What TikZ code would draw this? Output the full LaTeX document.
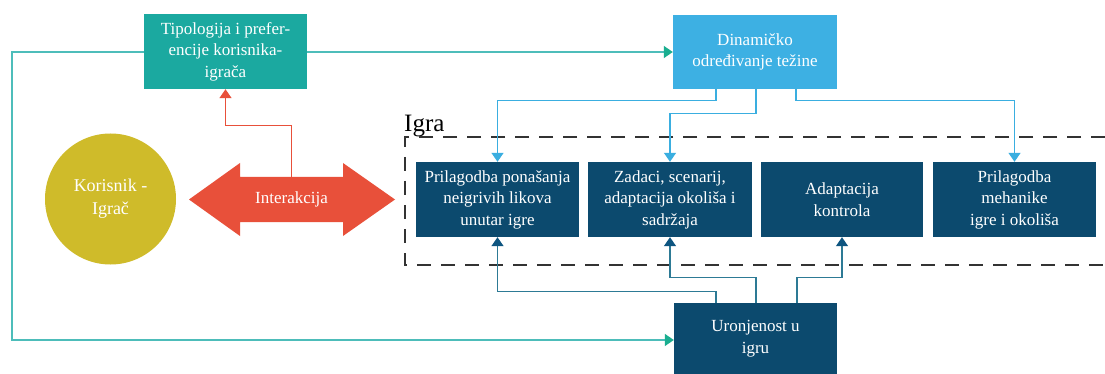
\documentclass[tikz,border=0pt]{standalone}
\usepackage{fontspec}
\setmainfont{Liberation Serif}
\usetikzlibrary{arrows.meta}
\definecolor{tealbox}{HTML}{1BA9A0}
\definecolor{bluebox}{HTML}{3DB0E3}
\definecolor{navy}{HTML}{0C4A6E}
\definecolor{olive}{HTML}{CFBB2A}
\definecolor{redc}{HTML}{E8503A}
\definecolor{tealline}{HTML}{4DBDBA}
\definecolor{tealtip}{HTML}{1AAE90}
\definecolor{blueline}{HTML}{3AAEE0}
\definecolor{navyline}{HTML}{2D7A95}
\definecolor{navytip}{HTML}{0E5580}
\begin{document}
\begin{tikzpicture}[x=1pt,y=-1pt,
  box/.style={rectangle, minimum width=163pt, minimum height=75pt, inner sep=2pt,
    text=white, align=center, font=\fontsize{17}{21.5}\selectfont},
  tealconn/.style={draw=tealline, line width=1.3pt, -{Triangle[width=12pt,length=9pt,fill=tealtip,color=tealtip]}},
  blueconn/.style={draw=blueline, line width=1.3pt, -{Triangle[width=12pt,length=9pt]}},
  navyconn/.style={draw=navyline, line width=1.3pt, -{Triangle[width=12pt,length=9pt,fill=navytip,color=navytip]}},
  redconn/.style={draw=redc, line width=1.3pt, -{Triangle[width=12pt,length=9pt]}},
  dashbox/.style={draw=black!80, line width=1.2pt, dash pattern=on 14pt off 10pt}
]
\useasboundingbox (0,0) rectangle (1105,374);
\fill[white] (0,0) rectangle (1105,374);

% boxes
\node[box, fill=tealbox] (tip) at (225.5,51.5) {Tipologija i prefer-\\encije korisnika-\\igrača};
\node[box, fill=bluebox, minimum width=164pt, minimum height=74pt] (din) at (755,52) {Dinamičko\\određivanje težine};
\node[box, fill=navy] (b1) at (497.5,199.5) {Prilagodba ponašanja\\neigrivih likova\\unutar igre};
\node[box, fill=navy, minimum width=164pt] (b2) at (670,199.5) {Zadaci, scenarij,\\adaptacija okoliša i\\sadržaja};
\node[box, fill=navy, minimum width=162pt] (b3) at (842,199.5) {Adaptacija\\kontrola};
\node[box, fill=navy] (b4) at (1014.5,199.5) {Prilagodba\\mehanike\\igre i okoliša};
\node[box, fill=navy, minimum height=71pt] (uro) at (755.5,338.5) {Uronjenost u\\igru};

\node[circle, fill=olive, minimum size=131pt, inner sep=0pt, text=white, align=center,
  font=\fontsize{18}{23}\selectfont] (kor) at (110.5,199) {Korisnik -\\Igrač};

% double arrow
\fill[redc] (189,199.5) -- (240,163) -- (240,177) -- (343,177) -- (343,163) -- (395,199.5)
  -- (343,236) -- (343,222) -- (240,222) -- (240,236) -- cycle;
\node[minimum width=103pt, minimum height=45pt, inner sep=0pt, text=white,
  font=\fontsize{17}{21}\selectfont] (inter) at (291.5,199.5) {Interakcija};

% game frame
\node[anchor=base west, inner sep=0pt, font=\fontsize{25}{28}\selectfont] (igra) at (404,132) {Igra};
\coordinate (gtr) at (1105,137);
\coordinate (gtl) at (405,137);
\coordinate (gbl) at (405,265);
\coordinate (gbr) at (1105,265);
\draw[dashbox] (gtr) -- (gtl) -- (gbl) -- (gbr);

% connectors
\draw[tealconn] (tip.east |- 0,52) -- (din.west |- 0,52);
\coordinate (lc) at (12,0);
\draw[tealconn] (tip.west |- 0,52) -| (lc |- 0,340) -- (uro.west |- 0,340);
\draw[redconn] (inter.north) -- ++(0,-51) -| (tip.south);

\draw[blueconn] ([xshift=-39pt]din.south) -- ++(0,11) -| (b1.north);
\draw[blueconn] ([xshift=1pt]din.south) -- ++(0,24) -| (b2.north);
\draw[blueconn] ([xshift=41pt]din.south) -- ++(0,11) -| (b4.north);

\draw[navyconn] ([xshift=-39.5pt]uro.north) -- ++(0,-11) -| (b1.south);
\draw[navyconn] ([xshift=0.5pt]uro.north) -- ++(0,-25) -| (b2.south);
\draw[navyconn] ([xshift=41.5pt]uro.north) -- ++(0,-25) -| (b3.south);
\end{tikzpicture}
\end{document}
